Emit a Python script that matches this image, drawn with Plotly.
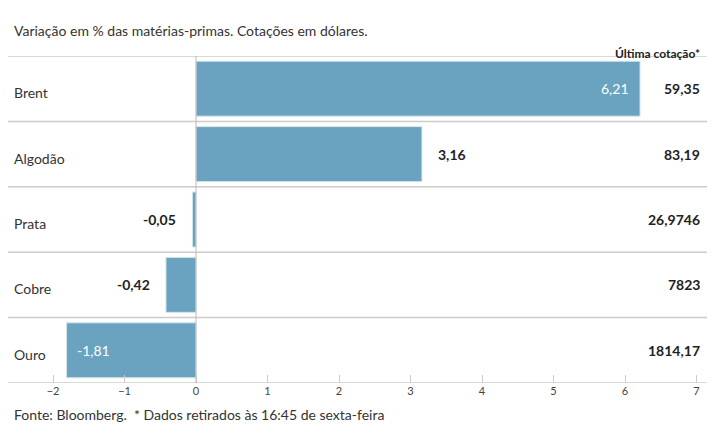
import plotly.graph_objects as go

# Data (top to bottom)
categories = ["Brent", "Algodão", "Prata", "Cobre", "Ouro"]
variation = [6.21, 3.16, -0.05, -0.42, -1.81]
last_price = ["59,35", "83,19", "26,9746", "7823", "1814,17"]

W, H = 700, 430
BAR = "#6aa3bf"
FONT = "Lato"
ZERO_PX, UNIT = 188, 71.5

fig = go.Figure()
fig.add_trace(go.Bar(x=variation, y=categories, orientation="h",
                     marker=dict(color=BAR, line=dict(color="#d5e3ea", width=1)),
                     hoverinfo="skip"))

ann = []
for c, v, p in zip(categories, variation, last_price):
    lbl = f"{v:.2f}".replace(".", ",")
    if v > 5:
        ann.append(dict(x=v - 0.12, y=c, text=lbl, xanchor="right", showarrow=False,
                        font=dict(color="white", size=14)))
    elif v < -1:
        ann.append(dict(x=v + 0.12, y=c, text=lbl, xanchor="left", showarrow=False,
                        font=dict(color="white", size=14)))
    elif v > 0:
        ann.append(dict(x=v + 0.2, y=c, text=f"<b>{lbl}</b>", xanchor="left", showarrow=False,
                        font=dict(color="#222", size=14)))
    else:
        ann.append(dict(x=v - 0.2, y=c, text=f"<b>{lbl}</b>", xanchor="right", showarrow=False,
                        font=dict(color="#222", size=14)))
    ann.append(dict(x=(W - 6) / W, xref="paper", y=c, text=f"<b>{p}</b>", xanchor="right",
                    showarrow=False, font=dict(color="#222", size=14)))
    ann.append(dict(x=4 / W, xref="paper", y=c, text=c, xanchor="left",
                    showarrow=False, font=dict(color="#333", size=14), yshift=-4))

ann.append(dict(x=4 / W, xref="paper", y=1, yref="paper", yshift=36,
                text="Variação em % das matérias-primas. Cotações em dólares.",
                xanchor="left", showarrow=False, font=dict(color="#333", size=14)))
ann.append(dict(x=(W - 6) / W, xref="paper", y=1, yref="paper", yshift=12,
                text="<b>Última cotação*</b>",
                xanchor="right", showarrow=False, font=dict(color="#222", size=12)))
ann.append(dict(x=4 / W, xref="paper", y=0, yref="paper", yshift=-42,
                text="Fonte: Bloomberg.  * Dados retirados às 16:45 de sexta-feira",
                xanchor="left", showarrow=False, font=dict(color="#333", size=14)))

shapes = [dict(type="line", xref="paper", x0=0, x1=1, y0=i + 0.5, y1=i + 0.5,
               line=dict(color="#cccccc", width=1.5)) for i in range(-1, len(categories))]
shapes.append(dict(type="line", x0=0, x1=0, yref="paper", y0=0, y1=1,
                   line=dict(color="#bbbbbb", width=1)))

fig.update_layout(
    width=W, height=H, margin=dict(l=0, r=0, t=48, b=55),
    paper_bgcolor="white", plot_bgcolor="white",
    font=dict(family=FONT, color="#333"),
    bargap=0.16, showlegend=False,
    annotations=ann, shapes=shapes,
    xaxis=dict(range=[-ZERO_PX / UNIT, (W - ZERO_PX) / UNIT], tickvals=list(range(-2, 8)),
               showgrid=False, zeroline=False, ticks="inside", ticklen=8,
               tickcolor="#cccccc", tickfont=dict(size=11, color="#444")),
    yaxis=dict(showticklabels=False, showgrid=False,
               zeroline=False, range=[4.5, -0.5]),
)
fig.write_html("out.html")
